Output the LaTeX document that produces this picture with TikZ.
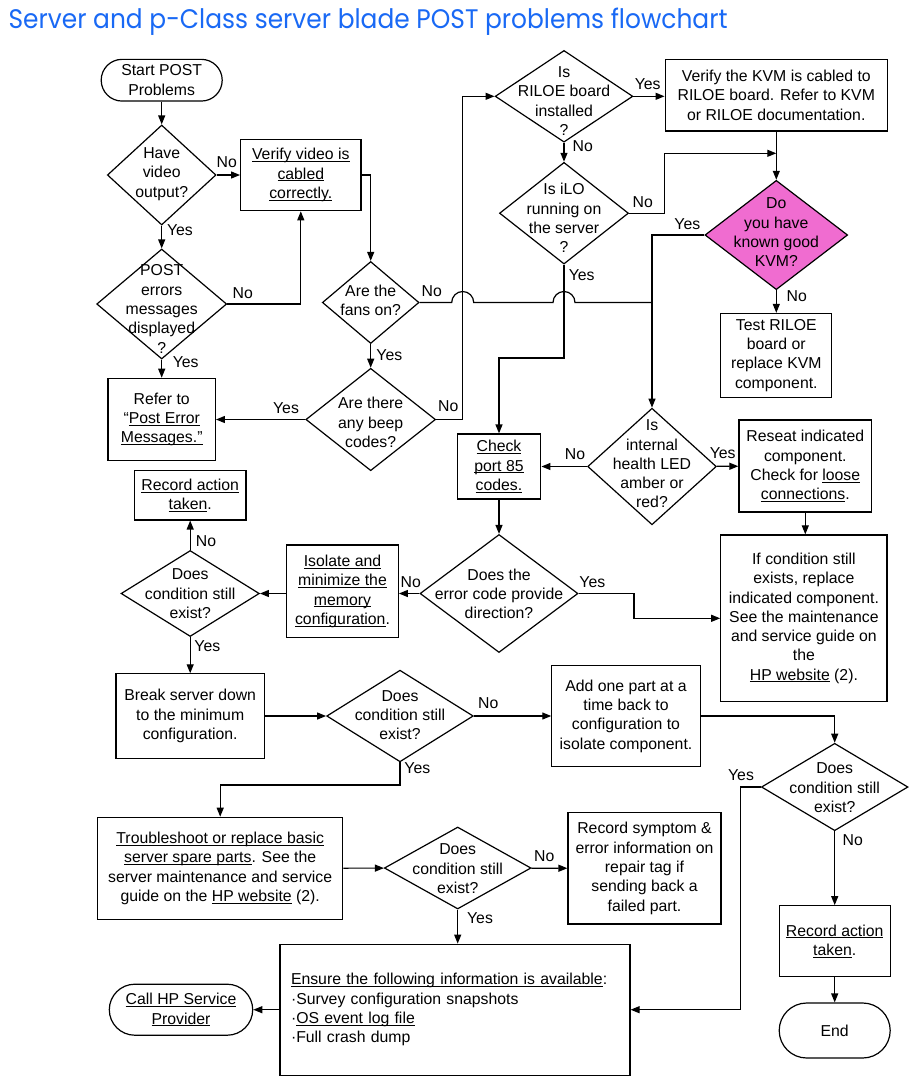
\documentclass[tikz,border=0pt]{standalone}
\usepackage{fontspec}
\setmainfont{Liberation Sans}
\newfontfamily\titlefont{Poppins}
\usetikzlibrary{arrows.meta,shapes.geometric}
\definecolor{titleblue}{RGB}{25,105,245}
\definecolor{kvmpink}{RGB}{240,108,208}
\newcommand\ul[1]{\underline{\smash{#1}}\vphantom{#1}}
\begin{document}
\begin{tikzpicture}[x=1pt,y=-1pt, line width=1.2pt,
  >={Triangle[length=9pt,width=7pt]},
  every node/.style={font=\fontsize{15.8}{19.3}\selectfont},
  box/.style={draw, rectangle, align=center, inner sep=2pt},
  term/.style={draw, rectangle, align=center, inner sep=2pt},
  dia/.style={draw, diamond, inner sep=0pt},
  txt/.style={align=center, inner sep=0pt},
  lab/.style={inner sep=0pt}]
\useasboundingbox (0,0) rectangle (909,1085);
\fill[white] (0,0) rectangle (909,1085);

% title
\node[anchor=base west, inner sep=0pt, text=titleblue] (title) at (8,28.3)
  {\resizebox{719pt}{20.5pt}{\titlefont Server and p-Class server blade POST problems flowchart}};

% column A
\node[term, minimum width=121pt, minimum height=41.7pt, rounded corners=20.8pt] (start) at (161.7,80.2) {Start POST\\Problems};
\node[dia, minimum width=108.7pt, minimum height=100pt] (d1) at (161.7,175) {};
\node[txt] (d1t) at (161.7,174) {Have\\video\\output?};
\node[box, minimum width=120.3pt, minimum height=71.4pt] (verify) at (300.8,175) {\ul{Verify video is}\\\ul{cabled}\\\ul{correctly.}};
\node[dia, minimum width=130pt, minimum height=110pt] (d2) at (161.7,304) {};
\node[txt] (d2t) at (161.7,309) {POST\\errors\\messages\\displayed\\?};
\node[box, minimum width=107.3pt, minimum height=82.4pt] (refer) at (161.7,419.5) {Refer to\\“\ul{Post Error}\\\ul{Messages.”}};

% fans / beep
\node[dia, minimum width=96.7pt, minimum height=82pt] (fans) at (370.7,302.5) {};
\node[txt] (fanst) at (370.7,300.5) {Are the\\fans on?};
\node[dia, minimum width=129.7pt, minimum height=102.4pt] (beep) at (370.7,419.5) {};
\node[txt] (beept) at (370.7,422.5) {Are there\\any beep\\codes?};

% RILOE / iLO / KVM
\node[dia, minimum width=137.7pt, minimum height=91.7pt] (riloe) at (564,96.3) {};
\node[txt] (riloet) at (564,101) {Is\\RILOE board\\installed\\?};
\node[box, minimum width=222.3pt, minimum height=71.7pt] (kvmbox) at (776.3,95.2) {Verify the KVM is cabled to\\RILOE board. Refer to KVM\\or RILOE documentation.};
\node[dia, minimum width=129pt, minimum height=101.7pt] (ilo) at (564,213.2) {};
\node[txt] (ilot) at (564,218) {Is iLO\\running on\\the server\\?};
\node[dia, fill=kvmpink, minimum width=142.7pt, minimum height=109.3pt] (kvmd) at (776.3,235) {};
\node[txt] (kvmdt) at (776.3,232.5) {Do\\you have\\known good\\KVM?};
\node[box, minimum width=111pt, minimum height=83.7pt] (test) at (776.3,355.3) {Test RILOE\\board or\\replace KVM\\component.};

% health row
\node[dia, minimum width=128.7pt, minimum height=116.6pt] (health) at (652,466.5) {};
\node[txt] (healtht) at (652,464) {Is\\internal\\health LED\\amber or\\red?};
\node[box, minimum width=83.7pt, minimum height=65pt] (check) at (499,466.5) {\ul{Check}\\\ul{port 85}\\\ul{codes.}};
\node[box, minimum width=132.7pt, minimum height=92pt] (reseat) at (805.3,466) {Reseat indicated\\component.\\Check for \ul{loose}\\\ul{connections}.};
\node[box, minimum width=166.3pt, minimum height=166.7pt] (ifcond) at (803.9,618.3) {If condition still\\exists, replace\\indicated component.\\See the maintenance\\and service guide on\\the\\\ul{HP website} (2).};

% error code row
\node[dia, minimum width=158pt, minimum height=118pt] (errd) at (499,593.5) {};
\node[txt] (errdt) at (499,593.7) {Does the\\error code provide\\direction?};
\node[box, minimum width=111.6pt, minimum height=92.7pt] (isolate) at (342.5,591.3) {\ul{Isolate and}\\\ul{minimize the}\\\ul{memory}\\\ul{configuration}.};
\node[dia, minimum width=138.3pt, minimum height=86pt] (cond1) at (190.2,593.5) {};
\node[txt] (cond1t) at (190.2,593.7) {Does\\condition still\\exist?};
\node[box, minimum width=111.4pt, minimum height=49.3pt] (rec1) at (190.2,495.3) {\ul{Record action}\\\ul{taken}.};

% break row
\node[box, minimum width=148.3pt, minimum height=84.3pt] (brk) at (190.2,716) {Break server down\\to the minimum\\configuration.};
\node[dia, minimum width=146.6pt, minimum height=91.7pt] (cond2) at (400,716) {};
\node[txt] (cond2t) at (400,715) {Does\\condition still\\exist?};
\node[box, minimum width=148.3pt, minimum height=101.7pt] (add) at (626,716) {Add one part at a\\time back to\\configuration to\\isolate component.};
\node[dia, minimum width=146.6pt, minimum height=87.4pt] (cond4) at (834.7,787) {};
\node[txt] (cond4t) at (834.7,787.7) {Does\\condition still\\exist?};
\node[box, minimum width=111pt, minimum height=71pt] (rec2) at (834.7,941.2) {\ul{Record action}\\\ul{taken}.};
\node[term, minimum width=111pt, minimum height=55pt, rounded corners=27.5pt] (endn) at (834.7,1030.5) {End};

% trouble row
\node[box, minimum width=245pt, minimum height=102pt] (trouble) at (220.2,868.3) {\ul{Troubleshoot or replace basic}\\\ul{server spare parts}. See the\\server maintenance and service\\guide on the \ul{HP website} (2).};
\node[dia, minimum width=146.7pt, minimum height=82pt] (cond3) at (457.7,868) {};
\node[txt] (cond3t) at (457.7,868.7) {Does\\condition still\\exist?};
\node[box, minimum width=153pt, minimum height=111.3pt] (recsym) at (644.5,868.4) {Record symptom \&\\error information on\\repair tag if\\sending back a\\failed part.};
\node[box, minimum width=350pt, minimum height=131pt, align=left, text width=328pt, inner xsep=11pt] (ensure) at (455,1009.7) {\ul{Ensure the following information is available}:\\·Survey configuration snapshots\\·\ul{OS event log file}\\·Full crash dump};
\node[term, minimum width=143.4pt, minimum height=51pt, rounded corners=25.5pt] (call) at (181,1009.7) {\ul{Call HP Service}\\\ul{Provider}};

% connectors
\draw[->] (start) -- (d1);
\draw[->] (d1) -- (verify);
\draw[->] (d1) -- (d2);
\draw[->] (d2.east) -| (verify.south);
\draw[->] (d2) -- (refer);
\draw[->] (verify.east) -| (fans.north);
\draw[->] (fans) -- (beep);
\coordinate (jn) at (652,302.5);
\draw (fans.east) -- (451.7,302.5) arc[start angle=180,end angle=0,radius=11pt]
  -- (553,302.5) arc[start angle=180,end angle=0,radius=11pt] -- (jn);
\draw[->] (beep) -- (refer);
\draw[->] (beep.east) -- (462.7,419.5) |- (riloe.west);
\draw[->] (riloe.east) -- (riloe.east -| kvmbox.west);
\draw[->] (riloe) -- (ilo);
\coordinate (kvmj) at (776.3,153.3);
\draw[->] (ilo.east) -| (664.3,153.3) -- (kvmj);
\draw[->] (kvmbox) -- (kvmd);
\draw[->] (kvmd.west) -| (health.north);
\draw[->] (kvmd) -- (test);
\draw[->] (ilo.south) -- (564,358) -| (check.north);
\draw[->] (health) -- (check);
\draw[->] (health) -- (reseat);
\draw[->] (reseat.south) -- (reseat.south |- ifcond.north);
\draw[->] (check) -- (errd);
\draw[->] (errd.east) -- (634,593.5) |- (ifcond.west);
\draw[->] (errd.west) -- (errd.west -| isolate.east);
\draw[->] (cond1.east -| isolate.west) -- (cond1.east);
\draw[->] (cond1) -- (rec1);
\draw[->] (cond1) -- (brk);
\draw[->] (brk) -- (cond2);
\draw[->] (cond2) -- (add);
\draw[->] (cond2.south) -- (400,785) -| (trouble.north);
\draw[->] (add.east) -| (cond4.north);
\draw[->] (cond4.west) -- (740.7,787) |- (ensure.east);
\draw[->] (cond4) -- (rec2);
\draw[->] (rec2) -- (endn);
\draw[->] (trouble) -- (cond3);
\draw[->] (cond3) -- (recsym);
\draw[->] (cond3.south) -- (cond3.south |- ensure.north);
\draw[->] (ensure) -- (call);

% labels
\node[lab] (l1) at (226.7,162.3) {No};
\node[lab] (l2) at (180,230) {Yes};
\node[lab] (l3) at (242.7,293.3) {No};
\node[lab] (l4) at (185.7,362.3) {Yes};
\node[lab] (l5) at (431.7,290.7) {No};
\node[lab] (l6) at (389.3,355) {Yes};
\node[lab] (l7) at (286,408.3) {Yes};
\node[lab] (l8) at (448.3,406) {No};
\node[lab] (l9) at (647.7,84.3) {Yes};
\node[lab] (l10) at (582.7,146) {No};
\node[lab] (l11) at (642.7,202.3) {No};
\node[lab] (l12) at (687.3,224) {Yes};
\node[lab] (l13) at (581.7,275) {Yes};
\node[lab] (l14) at (796.7,296) {No};
\node[lab] (l15) at (575,454) {No};
\node[lab] (l16) at (722.7,453.3) {Yes};
\node[lab] (l17) at (206,540.7) {No};
\node[lab] (l18) at (410.7,581.7) {No};
\node[lab] (l19) at (207.3,645.7) {Yes};
\node[lab] (l20) at (592.3,582.3) {Yes};
\node[lab] (l21) at (488.3,703.3) {No};
\node[lab] (l22) at (417.3,768.3) {Yes};
\node[lab] (l23) at (741,775) {Yes};
\node[lab] (l24) at (544.3,856) {No};
\node[lab] (l25) at (480,917.7) {Yes};
\node[lab] (l26) at (852.7,840) {No};
\end{tikzpicture}
\end{document}
